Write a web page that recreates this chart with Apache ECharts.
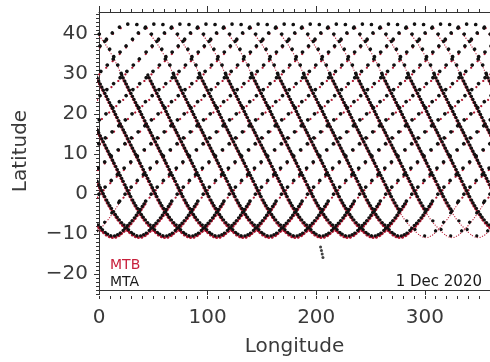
<!DOCTYPE html>
<html><head><meta charset="utf-8">
<script src="https://cdn.jsdelivr.net/npm/echarts@6/dist/echarts.min.js"></script>
<style>html,body{margin:0;padding:0;background:#fff}#c{width:490px;height:362px}</style>
</head><body><div id="c"></div>
<script>
// ---- data ----
// longitude of the bottom (southern turning point, ~-12 deg) of each orbit's tangent-point track
const orbitBottomLon = [13, 37, 61, 85, 109, 133, 157, 181, 205, 229, 253, 277, 301, 325, 349];
// orbits whose southern (bottom) part has no dense MTA data
const mtaGapBottoms = [301, 325, 349];
// orbit whose northern arch ends the day at 360 (no data wrapping to the left edge)
const dayEndBottoms = [157];
// track shape relative to the orbit bottom: [delta longitude, latitude]
// dense part: descending from ~30N down to the bottom and up again to ~-3
const mtaDenseShape = [[-88, 29.4], [-80, 25.0], [-68, 18.4], [-56, 11.8], [-46, 6.3], [-38, 1.9], [-31, -2.0], [-24, -5.3], [-18, -7.7], [-12, -9.4], [-8, -10.6], [-4, -11.4], [0, -11.7], [4, -11.4], [8, -10.6], [12, -9.4], [18, -7.6], [24, -5.3], [30, -2.8]];
// sparse part: ascending to the northern turning point (~42N) and descending back to ~30N
const mtaSparseShape = [[30, -2.8], [40, 0.6], [55, 4.8], [75, 9.9], [95, 14.9], [115, 19.9], [135, 24.9], [155, 29.9], [172, 34.6], [184, 38.0], [193, 40.6], [200, 41.9], [207, 42.4], [214, 42.3], [221, 41.5], [228, 39.6], [235, 36.8], [242, 33.3], [248, 29.4]];
const mtbDenseShape = [[-88, 29.1], [-80, 24.7], [-68, 18.1], [-56, 11.5], [-46, 6.0], [-38, 1.5], [-31, -2.4], [-24, -5.7], [-18, -8.1], [-12, -9.9], [-8, -11.0], [-4, -11.8], [0, -12.1], [4, -11.8], [8, -11.0], [12, -9.9], [18, -8.0], [24, -5.7], [30, -3.2]];
const mtbFineShape = [[226, 39.8], [232, 37.6], [238, 34.9], [244, 31.7], [248, 29.1]];
const mtbSparseShape = [[30, -3.2], [40, 0.2], [55, 4.4], [75, 9.5], [95, 14.5], [115, 19.5], [135, 24.5], [155, 29.5], [172, 34.2], [184, 37.6], [193, 40.2], [200, 41.5], [207, 42.0]];
const mtaStray = [[204.0, -14.5], [204.8, -15.4], [205.5, -16.3], [206.2, -17.2]];
const xMajorTicks = [0, 100, 200, 300];
const yMajorTicks = [-20, -10, 0, 10, 20, 30, 40];
const dateText = '1 Dec 2020';

// ---- build line data (wrap longitudes into 0..360) ----
function placeShape(shape, b, wrapLow) {
  const segs = [];
  [-360, 0, 360].forEach(w => {
    if (w === -360 && wrapLow === false) return;
    const seg = shape.map(p => [b + w + p[0], p[1]]);
    const xs = seg.map(p => p[0]);
    if (Math.max.apply(null, xs) >= 0 && Math.min.apply(null, xs) <= 360) segs.push(seg);
  });
  return segs;
}
function joinSegs(segs) {
  const out = [];
  segs.forEach(s => { s.forEach(p => out.push(p)); out.push(['-', '-']); });
  return out;
}
const isGap = b => mtaGapBottoms.indexOf(b) >= 0;
const isEnd = b => dayEndBottoms.indexOf(b) >= 0;
let segA_dense = [], segA_sparse = [], segA_gap = [], segB_dense = [], segB_fine = [], segB_sparse = [];
orbitBottomLon.forEach(b => {
  if (isGap(b)) {
    segA_dense = segA_dense.concat(placeShape(mtaDenseShape.filter(p => p[0] <= -24), b));
    segA_gap = segA_gap.concat(placeShape(mtaDenseShape.filter(p => p[0] >= -24), b));
    segB_dense = segB_dense.concat(placeShape(mtbDenseShape.filter(p => p[0] <= -24), b));
    segB_fine = segB_fine.concat(placeShape(mtbDenseShape.filter(p => p[0] >= -24), b));
  } else {
    segA_dense = segA_dense.concat(placeShape(mtaDenseShape, b));
    segB_dense = segB_dense.concat(placeShape(mtbDenseShape, b));
  }
  segA_sparse = segA_sparse.concat(placeShape(mtaSparseShape, b, !isEnd(b)));
  segB_fine = segB_fine.concat(placeShape(mtbFineShape, b, !isEnd(b)));
  segB_sparse = segB_sparse.concat(placeShape(mtbSparseShape, b, !isEnd(b)));
});

const FONT = 'DejaVu Sans';
const TXT = '#3a3a3a';
const RED = '#b0142e';
const BLK = '#111111';
const L = 99, W = 396;

function trackSeries(name, data, color, width, dash, offset) {
  return {
    type: 'line', name: name, data: joinSegs(data), xAxisIndex: 0, yAxisIndex: 0,
    showSymbol: false, symbol: 'none', smooth: 0.5, connectNulls: false, clip: true,
    silent: true, animation: false,
    lineStyle: { color: color, width: width, type: dash, cap: 'round', dashOffset: offset || 0 }
  };
}

const chart = echarts.init(document.getElementById('c'), null, { renderer: 'canvas' });
const axisLine = { show: true, onZero: false, lineStyle: { color: '#333', width: 1 } };
const noLine = { show: false, onZero: false };
const option = {
  backgroundColor: '#ffffff',
  animation: false,
  grid: [
    { left: L, top: 12, width: W, height: 284 },
    { left: L, top: 12, width: W, height: 284 },
    { left: L, top: 34, width: W, height: 240 },
    { left: L, top: 14, width: W, height: 280 }
  ],
  xAxis: [
    { gridIndex: 0, type: 'value', position: 'bottom', min: 0, max: 360, interval: 100,
      axisLine: axisLine, splitLine: { show: false },
      axisTick: { show: true, length: 5, lineStyle: { color: '#333' } },
      axisLabel: { show: true, margin: 18, fontSize: 20, fontFamily: FONT, color: TXT, showMaxLabel: false,
        formatter: v => (xMajorTicks.indexOf(v) >= 0 ? String(v) : '') },
      name: 'Longitude', nameLocation: 'middle', nameGap: 47,
      nameTextStyle: { fontSize: 20, fontFamily: FONT, color: TXT } },
    { gridIndex: 0, type: 'value', position: 'top', min: 0, max: 360, interval: 100,
      axisLine: axisLine, splitLine: { show: false },
      axisTick: { show: true, length: 6, lineStyle: { color: '#333' } }, axisLabel: { show: false } },
    { gridIndex: 1, type: 'value', position: 'bottom', min: 0, max: 360, interval: 10,
      axisLine: noLine, splitLine: { show: false },
      axisTick: { show: true, length: 3, lineStyle: { color: '#333' } }, axisLabel: { show: false } },
    { gridIndex: 1, type: 'value', position: 'top', min: 0, max: 360, interval: 10,
      axisLine: noLine, splitLine: { show: false },
      axisTick: { show: true, length: 3, lineStyle: { color: '#333' } }, axisLabel: { show: false } },
    { gridIndex: 2, type: 'value', show: false, min: 0, max: 360 },
    { gridIndex: 3, type: 'value', show: false, min: 0, max: 360 }
  ],
  yAxis: [
    { gridIndex: 0, type: 'value', position: 'left', min: -25.5, max: 45.5,
      axisLine: axisLine, axisTick: { show: false }, axisLabel: { show: false }, splitLine: { show: false },
      name: 'Latitude', nameLocation: 'middle', nameGap: 68,
      nameTextStyle: { fontSize: 20, fontFamily: FONT, color: TXT } },
    { gridIndex: 0, type: 'value', position: 'right', min: -25.5, max: 45.5,
      axisLine: axisLine, axisTick: { show: false }, axisLabel: { show: false }, splitLine: { show: false } },
    { gridIndex: 1, type: 'value', show: false, min: -25.5, max: 45.5 },
    { gridIndex: 2, type: 'value', position: 'left', min: -20, max: 40, interval: 10,
      axisLine: noLine, splitLine: { show: false },
      axisTick: { show: true, length: 5, lineStyle: { color: '#333' } },
      axisLabel: { show: true, margin: 11, fontSize: 20, fontFamily: FONT, color: TXT,
        formatter: v => (yMajorTicks.indexOf(v) >= 0 ? String(v).replace('-', '\u2212') : '') } },
    { gridIndex: 3, type: 'value', position: 'left', min: -25, max: 45, interval: 1,
      axisLine: noLine, splitLine: { show: false },
      axisTick: { show: true, length: 3, lineStyle: { color: '#333' } }, axisLabel: { show: false } }
  ],
  series: [
    trackSeries('MTB dense', segB_dense, RED, 3.2, [0.01, 3.4], 1.5),
    trackSeries('MTB fine', segB_fine, '#c03048', 1.3, [0.01, 2.6], 0),
    trackSeries('MTB sparse', segB_sparse, RED, 2.2, [0.01, 9.5], 3),
    trackSeries('MTA sparse', segA_sparse, BLK, 3.6, [0.01, 9.0], 0),
    trackSeries('MTA gap', segA_gap, BLK, 3.2, [0.01, 12], 0),
    trackSeries('MTA dense', segA_dense, BLK, 3.2, [0.01, 3.4], 0),
    { type: 'scatter', name: 'MTA stray', data: mtaStray, xAxisIndex: 0, yAxisIndex: 0, symbolSize: 3,
      itemStyle: { color: BLK }, silent: true, animation: false }
  ],
  graphic: [
    { type: 'text', left: 110, top: 258, style: { text: 'MTB', fontSize: 14, fontFamily: FONT, fill: '#c8203c' } },
    { type: 'text', left: 110, top: 275, style: { text: 'MTA', fontSize: 14, fontFamily: FONT, fill: '#1a1a1a' } },
    { type: 'text', right: 8, top: 275, style: { text: dateText, fontSize: 15, fontFamily: FONT, fill: '#1a1a1a' } }
  ]
};
chart.setOption(option);
</script></body></html>
